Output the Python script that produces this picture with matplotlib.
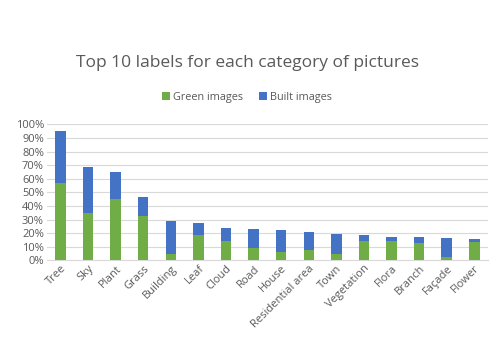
import matplotlib
matplotlib.use("Agg")
import matplotlib.pyplot as plt
from matplotlib.ticker import PercentFormatter

categories = ["Tree", "Sky", "Plant", "Grass", "Building", "Leaf", "Cloud", "Road",
              "House", "Residential area", "Town", "Vegetation", "Flora", "Branch",
              "Façade", "Flower"]
green = [57.0, 34.8, 44.9, 32.8, 4.6, 18.6, 14.2, 9.0, 6.3, 7.3, 4.6, 14.4, 14.2, 12.7, 2.2, 13.5]
total = [95.0, 68.6, 65.0, 46.5, 28.7, 27.7, 23.8, 23.2, 22.5, 20.6, 19.6, 18.6, 16.9, 16.9, 16.4, 15.9]
built = [t - g for t, g in zip(total, green)]

plt.rcParams['font.family'] = ['Open Sans', 'DejaVu Sans']
txt = '#595959'
fig = plt.figure(figsize=(4.94, 3.38), dpi=100)
ax = fig.add_axes([0.0945, 0.2299, 0.8935, 0.4023])
x = range(len(categories))
ax.bar(x, green, width=0.38, color='#70AD47', label='Green images', zorder=3)
ax.bar(x, built, bottom=green, width=0.38, color='#4472C4', label='Built images', zorder=3)
ax.set_ylim(0, 100)
ax.set_xlim(-0.5, len(categories) - 0.5)
ax.set_yticks(range(0, 101, 10))
ax.yaxis.set_major_formatter(PercentFormatter(decimals=0))
ax.grid(axis='y', color='#D9D9D9', linewidth=0.8, zorder=0)
for s in ['top', 'right', 'left']:
    ax.spines[s].set_visible(False)
ax.spines['bottom'].set_color('#D9D9D9')
ax.tick_params(axis='both', length=0, labelsize=8, colors=txt, pad=2)
ax.set_xticks(list(x))
ax.set_xticklabels(categories, rotation=45, ha='right', rotation_mode='anchor', fontsize=8)
fig.text(0.5, 0.815, 'Top 10 labels for each category of pictures', ha='center', va='center',
         fontsize=12.5, color=txt)
fig.legend(loc='center', bbox_to_anchor=(0.5, 0.713), ncol=2, frameon=False, fontsize=7.8,
           labelcolor=txt, handlelength=0.7, handleheight=0.7, columnspacing=1.5, handletextpad=0.3)
fig.savefig('out.png', dpi=100, facecolor='white')
